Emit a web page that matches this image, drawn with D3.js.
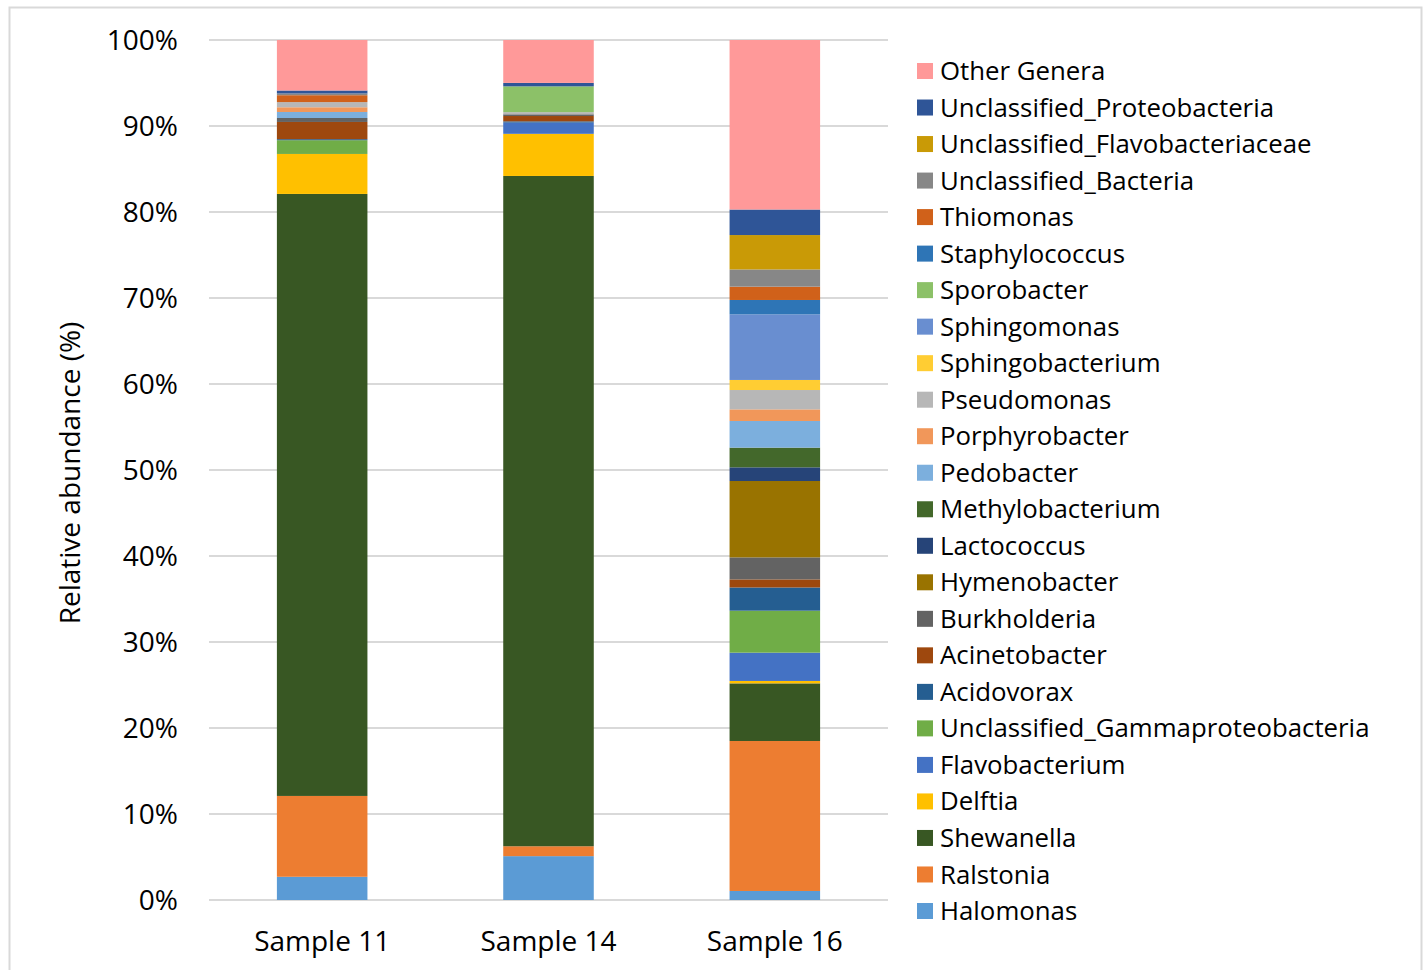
<!DOCTYPE html>
<html>
<head>
<meta charset="utf-8">
<script src="https://cdn.jsdelivr.net/npm/d3@7"></script>
<style>
  html, body { margin: 0; padding: 0; background: #fff; }
  svg { display: block; font-family: "Open Sans", "Noto Sans", sans-serif; }
</style>
</head>
<body>
<svg id="chart" width="1425" height="970"></svg>
<script>
// Samples on the x axis
const samples = ["Sample 11", "Sample 14", "Sample 16"];

// Genera in stacking order, bottom to top
const genera = [
  "Halomonas", "Ralstonia", "Shewanella", "Delftia", "Flavobacterium",
  "Unclassified_Gammaproteobacteria", "Acidovorax", "Acinetobacter", "Burkholderia",
  "Hymenobacter", "Lactococcus", "Methylobacterium", "Pedobacter", "Porphyrobacter",
  "Pseudomonas", "Sphingobacterium", "Sphingomonas", "Sporobacter", "Staphylococcus",
  "Thiomonas", "Unclassified_Bacteria", "Unclassified_Flavobacteriaceae",
  "Unclassified_Proteobacteria", "Other Genera"
];

// Relative abundance (%) per genus, same order as genera
const sample11 = [2.7, 9.4, 70.0, 4.65, 0, 1.6, 0.12, 2.0, 0.46, 0, 0, 0, 0.7, 0.55, 0.6, 0, 0, 0, 0, 0.8, 0.2, 0, 0.35, 5.87];
const sample14 = [5.1, 1.15, 77.94, 4.9, 1.3, 0, 0.15, 0.62, 0.2, 0, 0, 0, 0, 0, 0.25, 0, 0, 3.0, 0, 0, 0, 0, 0.4, 4.99];
const sample16 = [1.05, 17.44, 6.7, 0.28, 3.29, 4.88, 2.7, 0.94, 2.56, 8.88, 1.59, 2.29, 3.1, 1.35, 2.25, 1.17, 7.63, 0, 1.67, 1.55, 2.0, 4.0, 2.97, 19.71];

const colors = [
  "#5B9BD5", "#ED7D31", "#385723", "#FFC000", "#4472C4",
  "#70AD47", "#255E91", "#9E480E", "#636363",
  "#997300", "#264478", "#43682B", "#7CAFDD", "#F1975A",
  "#B7B7B7", "#FFCD33", "#698ED0", "#8CC168", "#2E75B6",
  "#D0611A", "#878787", "#C99A06",
  "#2F5597", "#FF9999"
];

const yTicks = [0, 10, 20, 30, 40, 50, 60, 70, 80, 90, 100];

const rows = samples.map((s, i) => {
  const vals = [sample11, sample14, sample16][i];
  const row = { sample: s };
  genera.forEach((g, j) => { row[g] = vals[j]; });
  return row;
});

const svg = d3.select("#chart");

// outer frame
svg.append("rect")
  .attr("x", 9.5).attr("y", 7.5)
  .attr("width", 1412).attr("height", 980)
  .attr("fill", "none").attr("stroke", "#d9d9d9").attr("stroke-width", 2);

const plot = { left: 209, right: 888, top: 40, bottom: 900 };

const x = d3.scaleBand()
  .domain(samples)
  .range([plot.left, plot.right])
  .paddingInner(0.6)
  .paddingOuter(0.3);

const y = d3.scaleLinear().domain([0, 100]).range([plot.bottom, plot.top]);

const color = d3.scaleOrdinal().domain(genera).range(colors);

// gridlines
svg.append("g")
  .selectAll("line")
  .data(yTicks)
  .join("line")
  .attr("x1", plot.left).attr("x2", plot.right)
  .attr("y1", d => y(d)).attr("y2", d => y(d))
  .attr("stroke", "#d9d9d9").attr("stroke-width", 2);

// y tick labels
svg.append("g")
  .selectAll("text")
  .data(yTicks)
  .join("text")
  .attr("x", 178)
  .attr("y", d => y(d))
  .attr("dy", "0.35em")
  .attr("text-anchor", "end")
  .attr("font-size", 28)
  .attr("fill", "#000")
  .text(d => d + "%");

// stacked bars
const stack = d3.stack().keys(genera);
const series = stack(rows);

svg.append("g")
  .selectAll("g")
  .data(series)
  .join("g")
  .attr("fill", d => color(d.key))
  .selectAll("rect")
  .data(d => d)
  .join("rect")
  .attr("x", d => x(d.data.sample))
  .attr("width", x.bandwidth())
  .attr("y", d => y(d[1]))
  .attr("height", d => Math.max(0, y(d[0]) - y(d[1])));

// x labels
svg.append("g")
  .selectAll("text")
  .data(samples)
  .join("text")
  .attr("x", d => x(d) + x.bandwidth() / 2)
  .attr("y", 941)
  .attr("dy", "0.35em")
  .attr("text-anchor", "middle")
  .attr("font-size", 28)
  .attr("fill", "#000")
  .text(d => d);

// y axis title
svg.append("text")
  .attr("transform", "translate(70,473) rotate(-90)")
  .attr("text-anchor", "middle")
  .attr("dy", "0.35em")
  .attr("font-size", 28)
  .attr("fill", "#000")
  .text("Relative abundance (%)");

// legend, top entry is the top of the stack
const legendItems = genera.slice().reverse();
const legendY = d3.scalePoint().domain(legendItems).range([71, 911]);

const legend = svg.append("g");
legend.selectAll("rect")
  .data(legendItems)
  .join("rect")
  .attr("x", 917)
  .attr("y", d => legendY(d) - 8)
  .attr("width", 16).attr("height", 16)
  .attr("fill", d => color(d));

legend.selectAll("text")
  .data(legendItems)
  .join("text")
  .attr("x", 940)
  .attr("y", d => legendY(d))
  .attr("dy", "0.35em")
  .attr("font-size", 25.8)
  .attr("fill", "#000")
  .text(d => d);
</script>
</body>
</html>
